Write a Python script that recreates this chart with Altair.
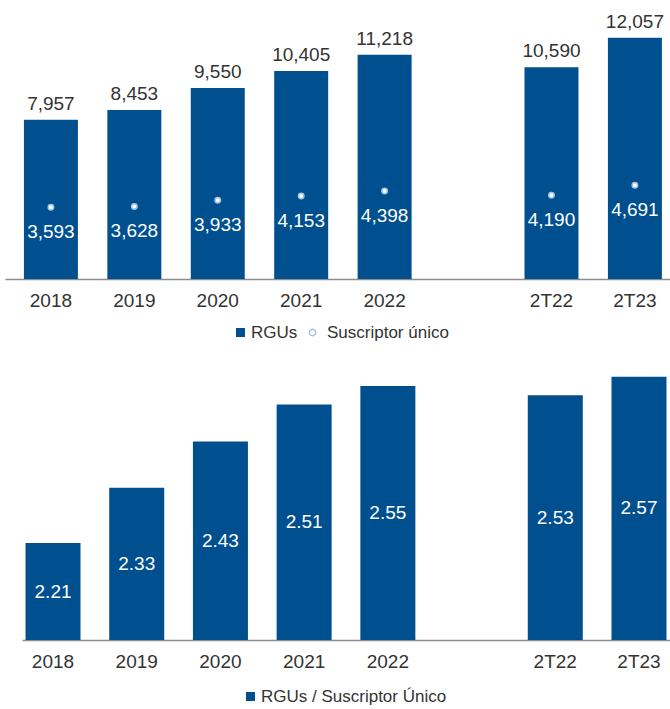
import altair as alt
import pandas as pd

# ---- data ----
categories = ["2018", "2019", "2020", "2021", "2022", "2T22", "2T23"]
rgus = [7957, 8453, 9550, 10405, 11218, 10590, 12057]
suscriptor_unico = [3593, 3628, 3933, 4153, 4398, 4190, 4691]
rgus_por_suscriptor = [2.21, 2.33, 2.43, 2.51, 2.55, 2.53, 2.57]
gap = " "
x_domain = categories[:5] + [gap] + categories[5:]

df = pd.DataFrame({
    "cat": categories,
    "rgus": rgus,
    "sus": suscriptor_unico,
    "ratio": rgus_por_suscriptor,
})

BLUE = "#004F8F"
LIGHT = "#9DC3E6"
FONT = "Liberation Sans"
TXT = "#333333"
FS = 19


def x_enc(scale):
    return alt.X(
        "cat:N", sort=x_domain, scale=scale,
        axis=alt.Axis(title=None, labelAngle=0, ticks=False, domain=True,
                      domainColor="#8c8c8c", domainWidth=1.5, labelFontSize=FS,
                      labelFont=FONT, labelColor=TXT, labelPadding=12, grid=False),
    )


def legend(x, y):
    return alt.Legend(orient="none", legendX=x, legendY=y, direction="horizontal",
                      title=None, labelFontSize=17, labelFont=FONT, labelColor=TXT,
                      padding=0, labelOffset=2, labelLimit=400)


# ---------- top panel ----------
x_top = x_enc(alt.Scale(domain=x_domain, paddingInner=0.353, paddingOuter=0.162, align=0.70))
y_top = alt.Scale(domain=[0, 13450])

base_top = alt.Chart(df)

bars_top = base_top.transform_calculate(series="'RGUs'").mark_bar().encode(
    x=x_top,
    y=alt.Y("rgus:Q", scale=y_top, axis=None),
    color=alt.Color("series:N", scale=alt.Scale(domain=["RGUs"], range=[BLUE]),
                    legend=legend(227, 314)),
)

labels_top = base_top.mark_text(dy=-10, baseline="alphabetic", fontSize=FS, font=FONT,
                                color=TXT).encode(
    x=x_top,
    y=alt.Y("rgus:Q", scale=y_top, axis=None),
    text=alt.Text("rgus:Q", format=","),
)

points_top = base_top.transform_calculate(series="'Suscriptor único'").mark_point(
    filled=False, size=30, strokeWidth=1.5, opacity=1).encode(
    x=x_top,
    y=alt.Y("sus:Q", scale=y_top, axis=None),
    color=alt.Color("series:N", scale=alt.Scale(domain=["Suscriptor único"], range=[LIGHT]),
                    legend=alt.Legend(orient="none", legendX=299, legendY=314,
                                      direction="horizontal", title=None, labelFontSize=17,
                                      labelFont=FONT, labelColor=TXT, padding=0,
                                      labelOffset=6, labelLimit=400, symbolType="circle",
                                      symbolSize=40, symbolStrokeWidth=1.5)),
    fill=alt.value("white"),
)

point_labels = base_top.mark_text(dy=31, baseline="alphabetic", fontSize=FS, font=FONT,
                                  color="white").encode(
    x=x_top,
    y=alt.Y("sus:Q", scale=y_top, axis=None),
    text=alt.Text("sus:Q", format=","),
)

top = alt.layer(bars_top, labels_top, points_top, point_labels).resolve_scale(
    color="independent").properties(width=665, height=269)

# ---------- bottom panel ----------
x_bot = x_enc(alt.Scale(domain=x_domain, range=[17, 665], paddingInner=0.343, paddingOuter=0.042))
y_bot = alt.Scale(domain=[2.0, 2.6], zero=False)

base_bot = alt.Chart(df)

bars_bot = base_bot.transform_calculate(series="'RGUs / Suscriptor Único'").mark_bar().encode(
    x=x_bot,
    y=alt.Y("ratio:Q", scale=y_bot, axis=None),
    y2=alt.datum(2.0),
    color=alt.Color("series:N",
                    scale=alt.Scale(domain=["RGUs / Suscriptor Único"], range=[BLUE]),
                    legend=legend(237, 325)),
)

labels_bot = base_bot.transform_calculate(mid="(datum.ratio + 2.0) / 2").mark_text(
    baseline="middle", fontSize=FS, font=FONT, color="white").encode(
    x=x_bot,
    y=alt.Y("mid:Q", scale=y_bot, axis=None),
    text=alt.Text("ratio:Q", format=".2f"),
)

bottom = alt.layer(bars_bot, labels_bot).properties(width=665, height=277)

chart = alt.vconcat(top, bottom, spacing=22).resolve_scale(
    color="independent", x="independent", y="independent"
).resolve_legend(color="independent").properties(
    padding={"left": 5, "top": 10, "right": 0, "bottom": 0}
).configure_view(stroke=None).configure_legend(symbolType="square", symbolSize=81)

chart.save("out.html", embed_options={"renderer": "svg", "actions": False})
